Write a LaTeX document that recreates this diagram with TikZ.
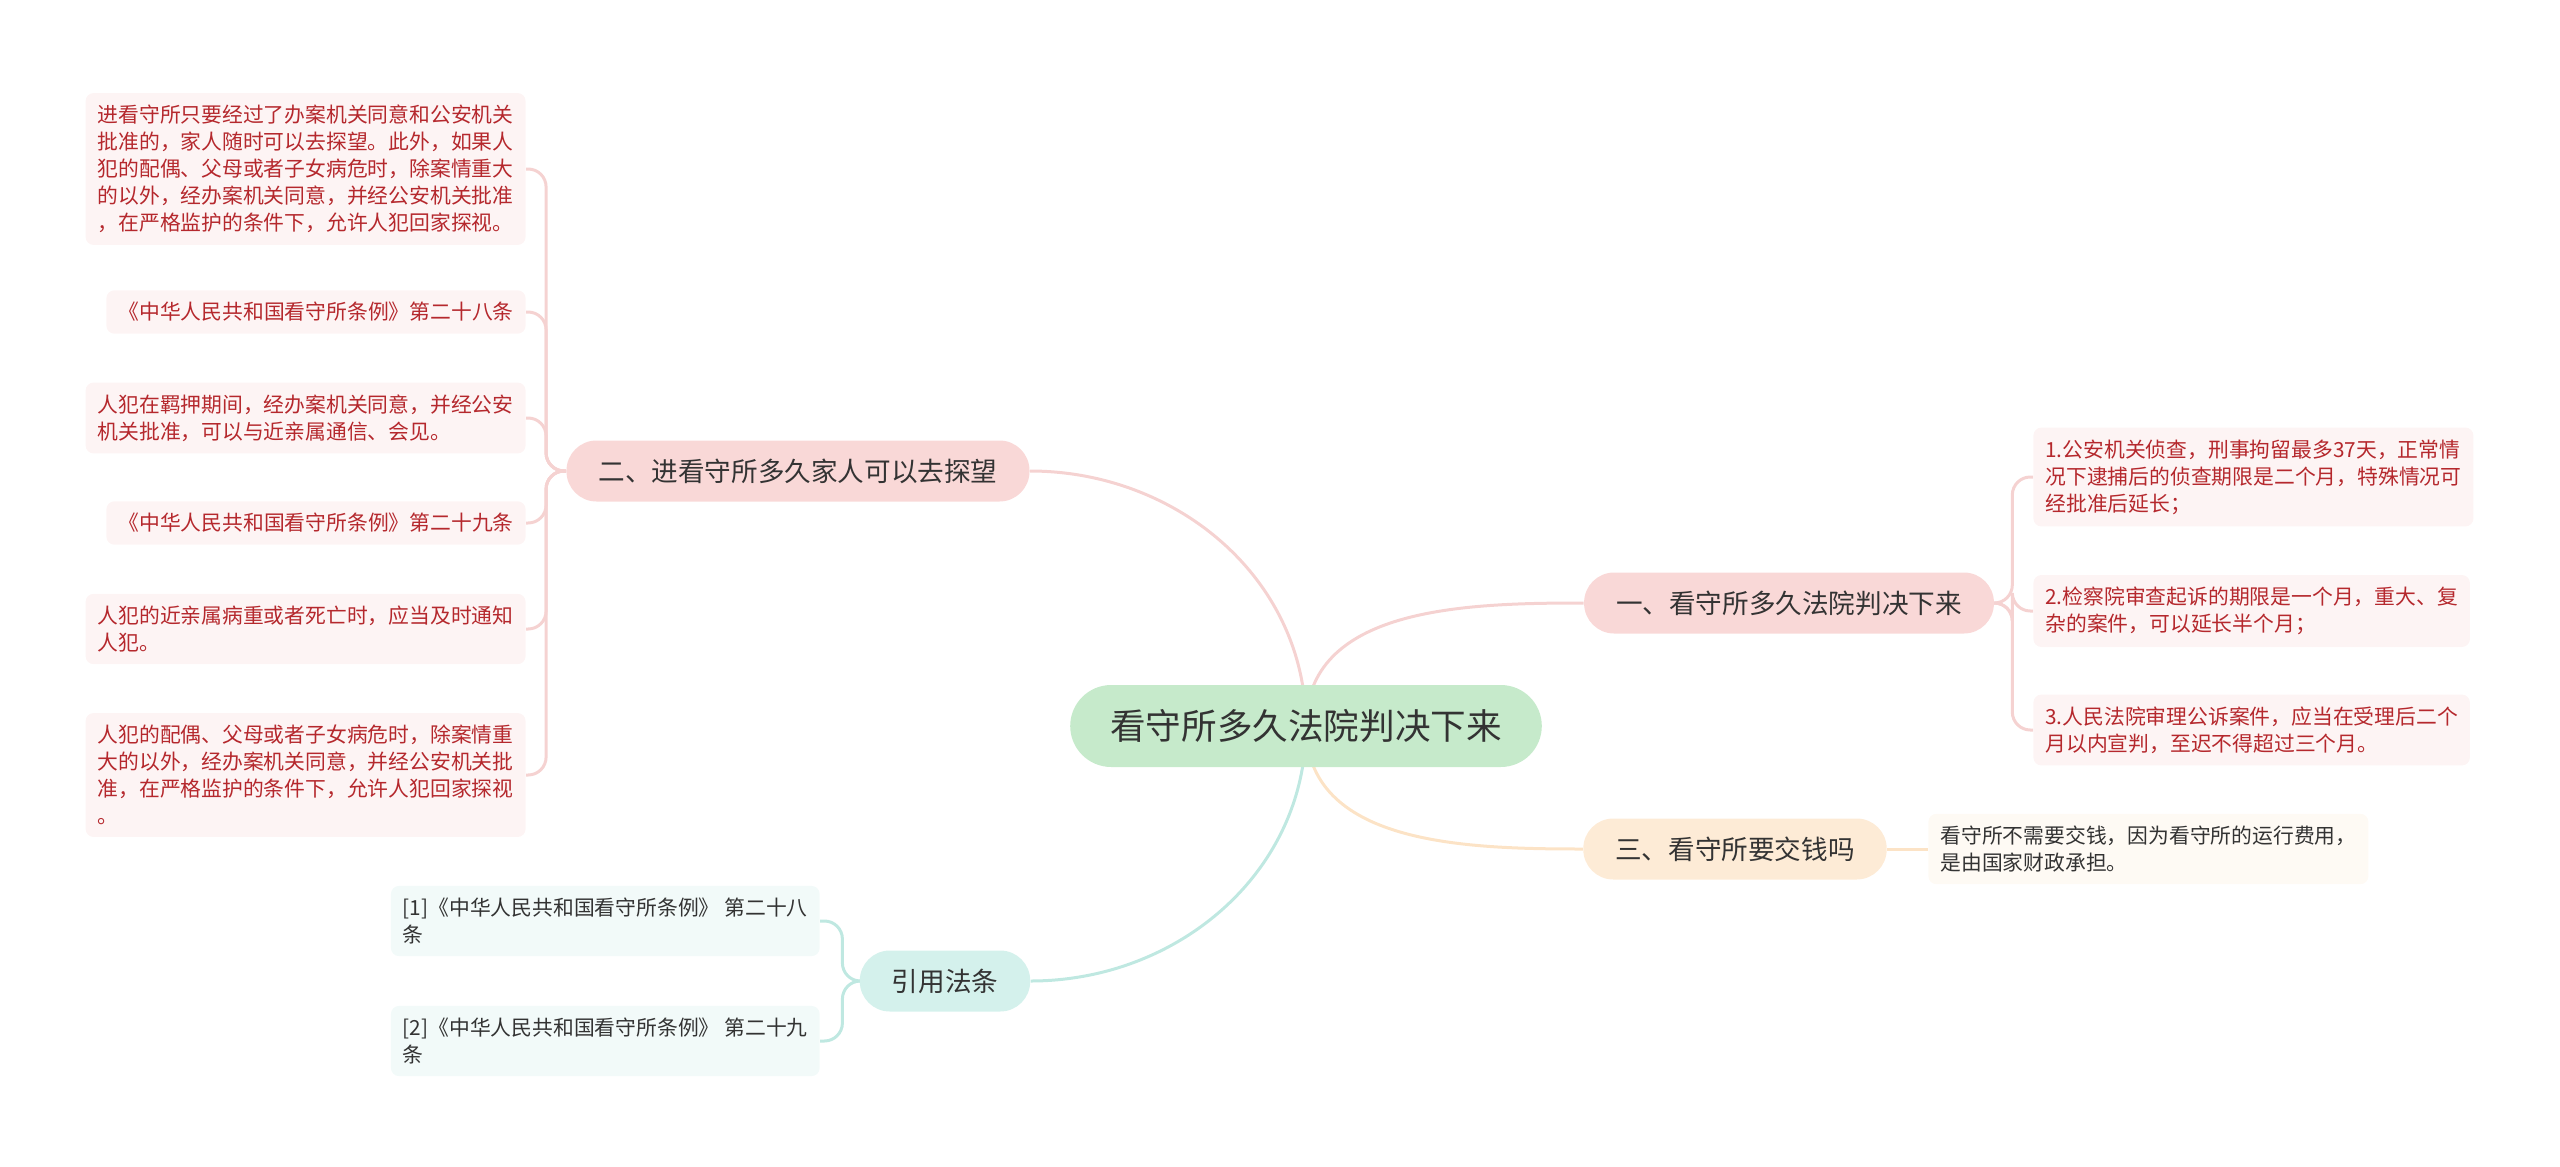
\documentclass[tikz,border=0pt]{standalone}
\usepackage{fontspec}
\setmainfont{Noto Sans CJK SC}
\usetikzlibrary{backgrounds}
\definecolor{cInk}{HTML}{333333}
\definecolor{cRoot}{HTML}{C6EACB}
\definecolor{cPk}{HTML}{F9D8D7}
\definecolor{cPkL}{HTML}{FDF4F4}
\definecolor{cPkD}{HTML}{F5D2D1}
\definecolor{cRed}{HTML}{B5282D}
\definecolor{cOr}{HTML}{FDEBD6}
\definecolor{cOrL}{HTML}{FEFAF4}
\definecolor{cOrD}{HTML}{FCE3C6}
\definecolor{cCy}{HTML}{D4F1EC}
\definecolor{cCyL}{HTML}{F2FAF9}
\definecolor{cCyD}{HTML}{BFE8E1}
\tikzset{
  root/.style={rectangle, rounded corners=20.5pt, fill=cRoot, text=cInk,
               font=\fontsize{17.8}{21}\selectfont, inner xsep=20pt, minimum height=41pt},
  topic/.style={rectangle, rounded corners=15pt, text=cInk,
                font=\fontsize{13.3}{16}\selectfont, inner xsep=16pt, minimum height=30.5pt},
  leaf/.style={rectangle, rounded corners=4pt, align=left,
               font=\fontsize{10.4}{13.5}\selectfont, inner xsep=6pt, inner ysep=6pt},
  pleaf/.style={leaf, fill=cPkL, text=cRed},
  oleaf/.style={leaf, fill=cOrL, text=cInk},
  cleaf/.style={leaf, fill=cCyL, text=cInk},
  link/.style={line width=1.5pt},
  twig/.style={line width=1.5pt, rounded corners=9pt},
}

\begin{document}
\begin{tikzpicture}[x=0.5pt, y=-0.5pt]
  \useasboundingbox (0,0) rectangle (2560,1167);

  % ---- root and the four topics
  \node[root] (root) at (1306,726) {看守所多久法院判决下来};
  \node[topic, fill=cPk] (visit) at (798,471) {二、进看守所多久家人可以去探望};
  \node[topic, fill=cPk] (judge) at (1789,603) {一、看守所多久法院判决下来};
  \node[topic, fill=cOr] (money) at (1735,849) {三、看守所要交钱吗};
  \node[topic, fill=cCy] (cite)  at (945,981) {引用法条};

  % ---- visit leaves (left)
  \node[pleaf, anchor=east] (v1) at (526,169) {进看守所只要经过了办案机关同意和公安机关\\批准的，家人随时可以去探望。此外，如果人\\犯的配偶、父母或者子女病危时，除案情重大\\的以外，经办案机关同意，并经公安机关批准\\，在严格监护的条件下，允许人犯回家探视。};
  \node[pleaf, anchor=east] (v2) at (526,312) {《中华人民共和国看守所条例》第二十八条};
  \node[pleaf, anchor=east] (v3) at (526,418) {人犯在羁押期间，经办案机关同意，并经公安\\机关批准，可以与近亲属通信、会见。};
  \node[pleaf, anchor=east] (v4) at (526,523) {《中华人民共和国看守所条例》第二十九条};
  \node[pleaf, anchor=east] (v5) at (526,629) {人犯的近亲属病重或者死亡时，应当及时通知\\人犯。};
  \node[pleaf, anchor=east] (v6) at (526,775) {人犯的配偶、父母或者子女病危时，除案情重\\大的以外，经办案机关同意，并经公安机关批\\准，在严格监护的条件下，允许人犯回家探视\\。};

  % ---- judge leaves (right)
  \node[pleaf, anchor=west] (j1) at (2033,477) {1.公安机关侦查，刑事拘留最多37天，正常情\\况下逮捕后的侦查期限是二个月，特殊情况可\\经批准后延长；};
  \node[pleaf, anchor=west] (j2) at (2033,611) {2.检察院审查起诉的期限是一个月，重大、复\\杂的案件，可以延长半个月；};
  \node[pleaf, anchor=west] (j3) at (2033,730) {3.人民法院审理公诉案件，应当在受理后二个\\月以内宣判，至迟不得超过三个月。};

  % ---- money and cite leaves
  \node[oleaf, anchor=west] (m1) at (1928,849) {看守所不需要交钱，因为看守所的运行费用，\\是由国家财政承担。};
  \node[cleaf, anchor=east] (c1) at (820,921) {[1]《中华人民共和国看守所条例》 第二十八\\条};
  \node[cleaf, anchor=east] (c2) at (820,1041) {[2]《中华人民共和国看守所条例》 第二十九\\条};

  \coordinate (sv) at ([xshift=-10pt]visit.west);
  \coordinate (sj) at ([xshift=9pt]judge.east);
  \coordinate (sc) at ([xshift=-8.5pt]cite.west);

  \begin{scope}[on background layer]
    % ---- root to topics
    \draw[link, draw=cPkD] (root.center) to[out=90, in=0] (visit.east);
    \draw[link, draw=cPkD] (root.center) to[out=90, in=180] (judge.west);
    \draw[link, draw=cOrD] (root.center) to[out=-90, in=180] (money.west);
    \draw[link, draw=cCyD] (root.center) to[out=-90, in=0] (cite.east);

    % ---- topics to leaves
    \foreach \l in {v1,v2,v3,v4,v5,v6}
      \draw[twig, draw=cPkD] (visit.west) -- (sv) |- (\l.east);
    \foreach \l in {j1,j2,j3}
      \draw[twig, draw=cPkD] (judge.east) -- (sj) |- (\l.west);
    \draw[link, draw=cOrD] (money.east) -- (m1.west);
    \foreach \l in {c1,c2}
      \draw[twig, draw=cCyD] (cite.west) -- (sc) |- (\l.east);
  \end{scope}
\end{tikzpicture}
\end{document}
